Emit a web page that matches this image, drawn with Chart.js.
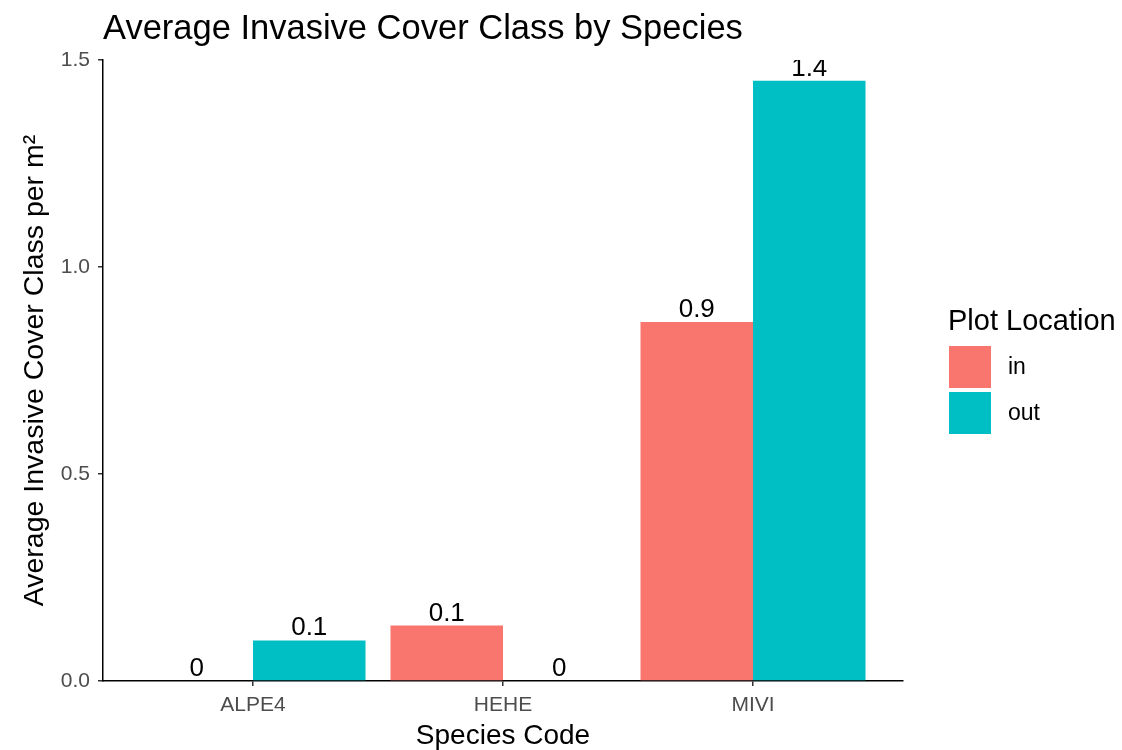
<!DOCTYPE html>
<html>
<head>
<meta charset="utf-8">
<script src="https://cdn.jsdelivr.net/npm/chart.js@4"></script>
<style>
  html, body { margin: 0; padding: 0; background: #fff; }
  #wrap { width: 1122px; height: 750px; }
</style>
</head>
<body>
<div id="wrap"><canvas id="cover" width="1122" height="750"></canvas></div>
<script>
const species = ["ALPE4", "HEHE", "MIVI"];
const inValues = [0, 0.134, 0.867];
const outValues = [0.098, 0, 1.45];
const yTicks = [0, 0.5, 1.0, 1.5];

const FONT = '"Liberation Sans", Arial, sans-serif';
const inColor = "#F8766D";
const outColor = "#00BFC4";

// species go on a linear axis at 1..n so the band width matches ggplot's 0.6 expansion
const toPoints = (vals) => vals.map((v, i) => ({ x: i + 1, y: v }));

// bar value labels, clipped to the panel like ggplot does
const barLabels = {
  id: "barLabels",
  afterDatasetsDraw(chart) {
    const { ctx, chartArea } = chart;
    ctx.save();
    ctx.beginPath();
    ctx.rect(chartArea.left, chartArea.top, chartArea.right - chartArea.left, chartArea.bottom - chartArea.top);
    ctx.clip();
    ctx.font = "26px " + FONT;
    ctx.fillStyle = "#000";
    ctx.textAlign = "center";
    ctx.textBaseline = "alphabetic";
    chart.data.datasets.forEach((ds, di) => {
      chart.getDatasetMeta(di).data.forEach((bar, i) => {
        const txt = String(Number(ds.data[i].y.toFixed(1)));
        ctx.fillText(txt, bar.x, bar.y - 5);
      });
    });
    ctx.restore();
  },
};

// title and ggplot-style legend
const decor = {
  id: "decor",
  afterDraw(chart) {
    const { ctx, chartArea } = chart;
    ctx.save();
    ctx.fillStyle = "#000";
    ctx.textAlign = "left";
    ctx.textBaseline = "alphabetic";
    ctx.font = "34.5px " + FONT;
    ctx.fillText("Average Invasive Cover Class by Species", chartArea.left, 39);

    const lx = 948;
    ctx.font = "29px " + FONT;
    ctx.fillText("Plot Location", lx, 330);
    ctx.font = "23px " + FONT;
    ctx.textBaseline = "middle";
    chart.data.datasets.forEach((ds, i) => {
      const top = 346 + i * 46;
      ctx.fillStyle = ds.backgroundColor;
      ctx.fillRect(lx + 1, top, 42, 42);
      ctx.fillStyle = "#000";
      ctx.fillText(ds.label, lx + 60, top + 22);
    });
    ctx.restore();
  },
};

new Chart(document.getElementById("cover"), {
  type: "bar",
  data: {
    datasets: [
      { label: "in", data: toPoints(inValues), backgroundColor: inColor },
      { label: "out", data: toPoints(outValues), backgroundColor: outColor },
    ],
  },
  options: {
    responsive: false,
    animation: false,
    categoryPercentage: 0.9,
    barPercentage: 1.0,
    layout: { padding: { top: 60, right: 219, left: 0, bottom: 0 } },
    plugins: {
      legend: { display: false },
      title: { display: false },
      tooltip: { enabled: false },
    },
    scales: {
      x: {
        type: "linear",
        offset: false,
        min: 0.4,
        max: species.length + 0.6,
        afterBuildTicks: (scale) => {
          scale.ticks = species.map((s, i) => ({ value: i + 1 }));
        },
        afterFit: (scale) => { scale.height = 69; },
        ticks: {
          callback: (v) => species[v - 1],
          font: { family: FONT, size: 21 },
          color: "#4d4d4d",
          padding: 7,
          autoSkip: false,
          maxRotation: 0,
        },
        grid: { offset: false, drawOnChartArea: false, drawTicks: true, tickLength: 5, color: "#333", lineWidth: 1.5 },
        border: { display: true, color: "#000", width: 1.5 },
        title: {
          display: true,
          text: "Species Code",
          font: { family: FONT, size: 28 },
          color: "#000",
          padding: { top: 0, bottom: -3 },
        },
      },
      y: {
        min: 0,
        max: 1.5,
        afterBuildTicks: (scale) => {
          scale.ticks = yTicks.map((v) => ({ value: v }));
        },
        afterFit: (scale) => { scale.width = 103; },
        ticks: {
          callback: (v) => v.toFixed(1),
          font: { family: FONT, size: 21 },
          color: "#4d4d4d",
          padding: 8,
        },
        grid: { drawOnChartArea: false, drawTicks: true, tickLength: 5, color: "#333", lineWidth: 1.5 },
        border: { display: true, color: "#000", width: 1.5 },
        title: {
          display: true,
          text: "Average Invasive Cover Class per m²",
          font: { family: FONT, size: 28.5 },
          color: "#000",
          padding: { top: 18, bottom: 0 },
        },
      },
    },
  },
  plugins: [barLabels, decor],
});
</script>
</body>
</html>
